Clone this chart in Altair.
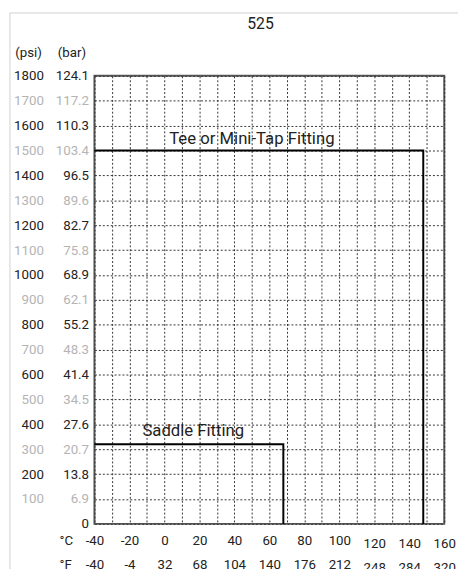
import json
import altair as alt
import pandas as pd

FONT = "Roboto"

# ---- tick values and labels ----
C_TICKS = list(range(-40, 161, 10))
C_LABEL_VALUES = [-40, -20, 0, 20, 40, 60, 80, 100, 120, 140, 160]
C_LABELS = ["-40", "-20", "0", "20", "40", "60", "80", "100", "120", "140", "160"]
F_LABELS = ["-40", "-4", "32", "68", "104", "140", "176", "212", "248", "284", "320"]

PSI_TICKS = list(range(0, 1801, 100))
PSI_LABELS = ["", "100", "200", "300", "400", "500", "600", "700", "800", "900",
              "1000", "1100", "1200", "1300", "1400", "1500", "1600", "1700", "1800"]
BAR_LABELS = ["0", "6.9", "13.8", "20.7", "27.6", "34.5", "41.4", "48.3", "55.2", "62.1",
              "68.9", "75.8", "82.7", "89.6", "96.5", "103.4", "110.3", "117.2", "124.1"]

# ---- series ----
TEE_TEMP = [-40, 148, 148]
TEE_PSI = [1500, 1500, 0]
SADDLE_TEMP = [-40, 68, 68]
SADDLE_PSI = [320, 320, 0]

ANNOT_TEXT = ["Tee or Mini-Tap Fitting", "Saddle Fitting"]
ANNOT_TEMP = [50, 16.5]
ANNOT_PSI = [1547, 371]

TITLE = "525"

lines = pd.DataFrame({
    "series": ["tee"] * 3 + ["saddle"] * 3,
    "temp": TEE_TEMP + SADDLE_TEMP,
    "psi": TEE_PSI + SADDLE_PSI,
    "order": [0, 1, 2, 0, 1, 2],
})
annots = pd.DataFrame({"text": ANNOT_TEXT, "temp": ANNOT_TEMP, "psi": ANNOT_PSI})


def lookup_expr(values, labels):
    return f"{json.dumps(labels)}[indexof({json.dumps(values)}, datum.value)] || ''"


xscale = alt.Scale(domain=[-40, 160], nice=False, zero=False)
yscale = alt.Scale(domain=[0, 1800], nice=False)

label_pad_x = {"condition": {"test": "datum.value >= 120", "value": 13}, "value": 10}
label_color_y = {"condition": {"test": "datum.value % 200 == 0", "value": "#222222"},
                 "value": "#b4b4b4"}

common_axis = dict(ticks=False, domain=False, labelFont=FONT, labelFontSize=13.5,
                   titleFont=FONT, titleFontSize=13.5, titleFontWeight="normal",
                   titleColor="#222222", titleAngle=0, labelOverlap=False, labelFlush=False)

axis_c = alt.Axis(orient="bottom", values=C_TICKS,
                  labelExpr=lookup_expr(C_LABEL_VALUES, C_LABELS),
                  grid=True, gridDash=[2, 2], gridColor="#333333", gridWidth=1,
                  labelPadding=label_pad_x, labelColor="#222222", labelBaseline="top",
                  title="°C", titleX=-36, titleY=10, titleAlign="left", titleBaseline="top",
                  **common_axis)
axis_f = alt.Axis(orient="bottom", offset=24, values=C_TICKS,
                  labelExpr=lookup_expr(C_LABEL_VALUES, F_LABELS),
                  grid=False, labelPadding=label_pad_x, labelColor="#222222",
                  labelBaseline="top",
                  title="°F", titleX=-36, titleY=10, titleAlign="left", titleBaseline="top",
                  **common_axis)
axis_bar = alt.Axis(orient="left", values=PSI_TICKS,
                    labelExpr=lookup_expr(PSI_TICKS, BAR_LABELS),
                    grid=True, gridDash=[2, 2], gridColor="#333333", gridWidth=1,
                    labelPadding=6, labelColor=label_color_y,
                    title="(bar)", titleX=-9, titleY=-24, titleAlign="right",
                    titleBaseline="middle", **common_axis)
axis_psi = alt.Axis(orient="left", offset=46, values=PSI_TICKS,
                    labelExpr=lookup_expr(PSI_TICKS, PSI_LABELS),
                    grid=False, labelPadding=6, labelColor=label_color_y,
                    title="(psi)", titleX=-8, titleY=-24, titleAlign="right",
                    titleBaseline="middle", **common_axis)

tee = alt.Chart(lines).transform_filter(alt.datum.series == "tee").mark_line(
    color="black", strokeWidth=2
).encode(
    x=alt.X("temp:Q", scale=xscale, axis=axis_c),
    y=alt.Y("psi:Q", scale=yscale, axis=axis_bar),
    order="order:Q",
)
saddle = alt.Chart(lines).transform_filter(alt.datum.series == "saddle").mark_line(
    color="black", strokeWidth=2
).encode(
    x=alt.X("temp:Q", scale=xscale, axis=axis_f),
    y=alt.Y("psi:Q", scale=yscale, axis=axis_psi),
    order="order:Q",
)
text = alt.Chart(annots).mark_text(
    font=FONT, fontSize=17, color="#222222", align="center", baseline="middle"
).encode(
    x=alt.X("temp:Q", scale=xscale, axis=None),
    y=alt.Y("psi:Q", scale=yscale, axis=None),
    text="text:N",
)

frame_df = pd.DataFrame({"k": [0]})
border_v = alt.Chart(frame_df).mark_rule(color="#d0d0d0", strokeWidth=1).encode(
    x=alt.value(-86), y=alt.value(-64), y2=alt.value(600)
)
border_h = alt.Chart(frame_df).mark_rule(color="#d0d0d0", strokeWidth=1).encode(
    x=alt.value(-86), x2=alt.value(500), y=alt.value(-64)
)

chart = alt.layer(border_v, border_h, tee, saddle, text).resolve_axis(
    x="independent", y="independent"
).properties(
    width=356,
    height=456,
    title=alt.TitleParams(TITLE, font=FONT, fontSize=16, fontWeight="normal",
                          color="#222222", frame="group", offset=-19.5, dx=-9,
                          anchor="middle"),
    autosize=alt.AutoSizeParams(type="none"),
    padding={"left": 88, "top": 64, "right": 14, "bottom": 48},
).configure_view(stroke="#555555", strokeWidth=2)

chart.save("out.html", embed_options={"renderer": "svg", "actions": False})
